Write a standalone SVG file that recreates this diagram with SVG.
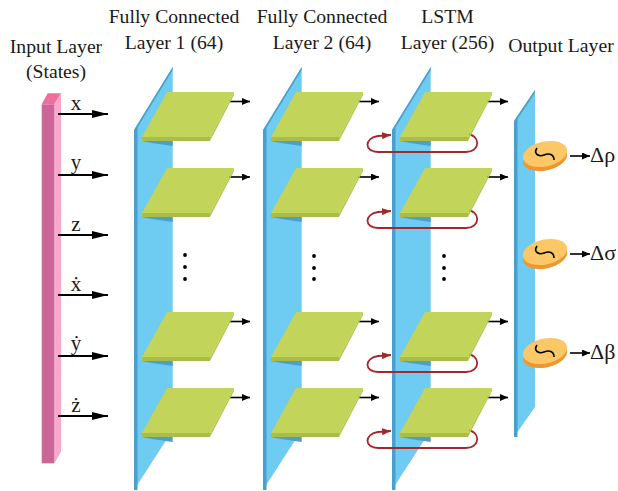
<svg xmlns="http://www.w3.org/2000/svg" xmlns:xlink="http://www.w3.org/1999/xlink" width="618" height="491" viewBox="0 0 618 491">
<style>
.txt{font-family:"Liberation Serif","DejaVu Serif",serif;fill:#1a1a1a;}
.hdr{font-size:19.7px;text-anchor:middle;}
.lbl{font-size:21px;text-anchor:middle;}
.out{font-size:22px;}
.panel{fill:#6ECBF1;}
.pedge{fill:#4A9FCB;}
.gtop{fill:#C3D45B;}
.gfront{fill:#A9BD47;}
.gside{fill:#B5C94F;}
.shadow{fill:#4A9FCB;}
.arr{stroke:#000;stroke-width:2.2;fill:none;}
.sarr{stroke:#000;stroke-width:1.6;fill:none;}
.loop{stroke:#A3282C;stroke-width:1.8;fill:none;}
.dot{fill:#000;}
</style>
<defs>
<marker id="bigHead" viewBox="0 0 16 8" refX="16" refY="4" markerWidth="16" markerHeight="8" orient="auto" markerUnits="userSpaceOnUse"><path d="M0,0 L16,4 L0,8 z" fill="#000"/></marker>
<marker id="smallHead" viewBox="0 0 8 7" refX="8" refY="3.5" markerWidth="8" markerHeight="7" orient="auto" markerUnits="userSpaceOnUse"><path d="M0,0 L8,3.5 L0,7 z" fill="#000"/></marker>
<marker id="redHead" viewBox="0 0 9 7" refX="9" refY="3.5" markerWidth="9" markerHeight="7" orient="auto" markerUnits="userSpaceOnUse"><path d="M0,0 L9,3.5 L0,7 z" fill="#A3282C"/></marker>
<g id="unit">
<polygon class="shadow" points="0,49 30.7,49 30.7,54 10,51"/>
<polygon class="gtop" points="25,0 92,0 68,45 0,45"/>
<polygon class="gfront" points="0,45 68,45 68,49 0,49"/>
<polygon class="gside" points="92,0 92,3 68,49 68,45"/>
</g>
<g id="panelShape">
<polygon class="panel" points="134,130 172.7,67 172.7,430 134,490"/>
<polygon class="pedge" points="134,130 172.7,67 172.7,70 137.5,127.5 137.5,490 134,490"/>
</g>
<g id="disk">
<ellipse cx="0" cy="4" rx="22.5" ry="12.5" fill="#F0962F" transform="rotate(-12 0 4)"/>
<ellipse cx="0" cy="0" rx="22.5" ry="12.5" fill="#FCC766" transform="rotate(-12)"/>
<path d="M-8,-6 C-12,0 -6,3 -1,1 C4,-1 9,0 9,6" stroke="#000" stroke-width="1.6" fill="none"/>
</g>
</defs>

<g id="input-layer">
<polygon points="41.7,104.3 47.7,93.3 61,93.3 54.3,104.3" fill="#EE6F9B"/>
<polygon points="54.3,104.3 61,93.3 61,451.7 54.3,463.3" fill="#F7A8CC"/>
<rect x="41.7" y="104.3" width="12.6" height="359" fill="#CC6699"/>
</g>

<g id="fc1-panel"><use xlink:href="#panelShape"/></g>
<g id="fc2-panel"><use xlink:href="#panelShape" x="129"/></g>
<g id="lstm-panel"><use xlink:href="#panelShape" x="258"/></g>
<g id="output-panel">
<polygon class="panel" points="514,121 535,90 535,407 514,437"/>
<polygon class="pedge" points="514,121 535,90 535,93 517.5,119 517.5,437 514,437"/>
</g>

<g id="connectors">
<line class="arr" x1="58" y1="114" x2="108" y2="114" marker-end="url(#bigHead)"/>
<line class="arr" x1="58" y1="175" x2="108" y2="175" marker-end="url(#bigHead)"/>
<line class="arr" x1="58" y1="235" x2="108" y2="235" marker-end="url(#bigHead)"/>
<line class="arr" x1="58" y1="295" x2="108" y2="295" marker-end="url(#bigHead)"/>
<line class="arr" x1="58" y1="356" x2="108" y2="356" marker-end="url(#bigHead)"/>
<line class="arr" x1="58" y1="416" x2="108" y2="416" marker-end="url(#bigHead)"/>

<line class="sarr" x1="229" y1="101.5" x2="250" y2="101.5" marker-end="url(#smallHead)"/>
<line class="sarr" x1="229" y1="177" x2="250" y2="177" marker-end="url(#smallHead)"/>
<line class="sarr" x1="229" y1="321.5" x2="250" y2="321.5" marker-end="url(#smallHead)"/>
<line class="sarr" x1="229" y1="397.5" x2="250" y2="397.5" marker-end="url(#smallHead)"/>
<line class="sarr" x1="358" y1="101.5" x2="379" y2="101.5" marker-end="url(#smallHead)"/>
<line class="sarr" x1="358" y1="177" x2="379" y2="177" marker-end="url(#smallHead)"/>
<line class="sarr" x1="358" y1="321.5" x2="379" y2="321.5" marker-end="url(#smallHead)"/>
<line class="sarr" x1="358" y1="397.5" x2="379" y2="397.5" marker-end="url(#smallHead)"/>
<line class="sarr" x1="487" y1="101.5" x2="508" y2="101.5" marker-end="url(#smallHead)"/>
<line class="sarr" x1="487" y1="177" x2="508" y2="177" marker-end="url(#smallHead)"/>
<line class="sarr" x1="487" y1="321.5" x2="508" y2="321.5" marker-end="url(#smallHead)"/>
<line class="sarr" x1="487" y1="397.5" x2="508" y2="397.5" marker-end="url(#smallHead)"/>

<path class="loop" d="M466,134 C481,134 481,152 466,152 L378,152 C364,152 364,138 378,136 L391,135" marker-end="url(#redHead)"/>
<path class="loop" d="M466,210 C481,210 481,228 466,228 L378,228 C364,228 364,214 378,212 L391,211" marker-end="url(#redHead)"/>
<path class="loop" d="M466,354 C481,354 481,372 466,372 L378,372 C364,372 364,358 378,356 L391,355" marker-end="url(#redHead)"/>
<path class="loop" d="M466,430 C481,430 481,448 466,448 L378,448 C364,448 364,434 378,432 L391,431" marker-end="url(#redHead)"/>

<line class="sarr" x1="570" y1="156" x2="590" y2="156" marker-end="url(#smallHead)"/>
<line class="sarr" x1="570" y1="254" x2="590" y2="254" marker-end="url(#smallHead)"/>
<line class="sarr" x1="570" y1="353" x2="590" y2="353" marker-end="url(#smallHead)"/>
</g>

<g id="fc1-units">
<use xlink:href="#unit" x="142" y="92"/>
<use xlink:href="#unit" x="142" y="168"/>
<use xlink:href="#unit" x="142" y="312"/>
<use xlink:href="#unit" x="142" y="388"/>
<circle class="dot" cx="185" cy="255" r="1.9"/><circle class="dot" cx="185" cy="267" r="1.9"/><circle class="dot" cx="185" cy="279" r="1.9"/>
</g>
<g id="fc2-units">
<use xlink:href="#unit" x="271" y="92"/>
<use xlink:href="#unit" x="271" y="168"/>
<use xlink:href="#unit" x="271" y="312"/>
<use xlink:href="#unit" x="271" y="388"/>
<circle class="dot" cx="314" cy="256" r="1.9"/><circle class="dot" cx="314" cy="268" r="1.9"/><circle class="dot" cx="314" cy="279" r="1.9"/>
</g>
<g id="lstm-units">
<use xlink:href="#unit" x="400" y="92"/>
<use xlink:href="#unit" x="400" y="168"/>
<use xlink:href="#unit" x="400" y="312"/>
<use xlink:href="#unit" x="400" y="388"/>
<circle class="dot" cx="444" cy="256" r="1.9"/><circle class="dot" cx="444" cy="268" r="1.9"/><circle class="dot" cx="444" cy="279" r="1.9"/>
</g>

<g id="out-rho"><use xlink:href="#disk" x="545" y="154"/><text class="txt out" x="590" y="162">Δρ</text></g>
<g id="out-sigma"><use xlink:href="#disk" x="545" y="252"/><text class="txt out" x="590" y="260">Δσ</text></g>
<g id="out-beta"><use xlink:href="#disk" x="545" y="351"/><text class="txt out" x="590" y="359">Δβ</text></g>

<g id="input-labels">
<text class="txt lbl" x="76" y="110">x</text>
<text class="txt lbl" x="76" y="169">y</text>
<text class="txt lbl" x="76" y="231">z</text>
<text class="txt lbl" x="76" y="291">ẋ</text>
<text class="txt lbl" x="76" y="350">ẏ</text>
<text class="txt lbl" x="76" y="412">ż</text>
</g>

<g id="headers">
<text class="txt hdr" x="56" y="53">Input Layer</text>
<text class="txt hdr" x="56" y="78">(States)</text>
<text class="txt hdr" x="174" y="23">Fully Connected</text>
<text class="txt hdr" x="174" y="49">Layer 1 (64)</text>
<text class="txt hdr" x="322" y="23">Fully Connected</text>
<text class="txt hdr" x="322" y="49">Layer 2 (64)</text>
<text class="txt hdr" x="447.5" y="23">LSTM</text>
<text class="txt hdr" x="447.5" y="49">Layer (256)</text>
<text class="txt hdr" x="561" y="52">Output Layer</text>
</g>
</svg>
